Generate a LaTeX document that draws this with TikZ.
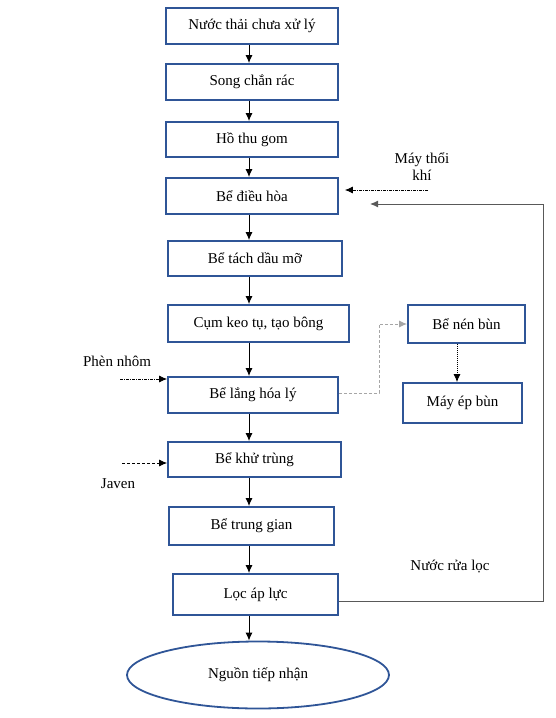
\documentclass[tikz,border=0pt]{standalone}
\usepackage{fontspec}
\setmainfont{Liberation Serif}
\usetikzlibrary{arrows.meta,shapes.geometric,calc}
\definecolor{boxblue}{HTML}{2F5597}
\definecolor{lgray}{HTML}{A6A6A6}
\definecolor{dgray}{HTML}{595959}
\begin{document}
\begin{tikzpicture}[x=1pt,y=-1pt,
  every node/.style={font=\fontsize{15}{17}\selectfont},
  proc/.style={draw=boxblue,line width=1.8pt,inner sep=0pt},
  arr/.style={-{Latex[length=8pt,width=7pt]},line width=1pt},
  lbl/.style={inner sep=0pt,align=center}]
\useasboundingbox (0,0) rectangle (556,718);
\newcommand{\bx}[6]{\node[proc,minimum width={#4-#2},minimum height={#5-#3}] (#1) at ({(#2+#4)/2},{(#3+#5)/2}) {#6};}
\bx{b1}{166}{8}{338}{44}{Nước thải chưa xử lý}
\bx{b2}{166}{64}{338}{100}{Song chắn rác}
\bx{b3}{166}{122}{338}{157}{Hồ thu gom}
\bx{b4}{166}{178}{338}{214}{Bể điều hòa}
\bx{b5}{168}{241}{342}{276}{Bể tách dầu mỡ}
\bx{b6}{168}{305}{349}{342}{Cụm keo tụ, tạo bông}
\bx{b7}{168}{377}{338}{413}{Bể lắng hóa lý}
\bx{b8}{408}{305}{525}{343}{Bể nén bùn}
\bx{b9}{403}{383}{522}{423}{Máy ép bùn}
\bx{b10}{168}{442}{341}{477}{Bể khử trùng}
\bx{b11}{169}{507}{334}{545}{Bể trung gian}
\bx{b12}{173}{574}{338}{615}{Lọc áp lực}
\node[proc,ellipse,minimum width=262,minimum height=67] (b13) at (258,675) {Nguồn tiếp nhận};
\coordinate (ax) at (249,0);
\foreach \a/\b in {b1/b2,b2/b3,b3/b4,b4/b5,b5/b6,b6/b7,b7/b10,b10/b11,b11/b12,b12/b13}
  \draw[arr] (\a.south -| ax) -- (\b.north -| ax);
% labels
\node[lbl] (mt) at (422,167) {Máy thổi\\khí};
\coordinate (mts) at (428,190);
\draw[arr,densely dash dot,line width=0.7pt] (mts) -- ($(b4.east |- mts)+(6,0)$);
\node[lbl] (pn) at (117,361) {Phèn nhôm};
\coordinate (pns) at (120,379);
\draw[arr,densely dash dot,line width=0.7pt] (pns) -- (b7.west |- pns);
\node[lbl] (jv) at (118,484) {Javen};
\coordinate (jvs) at (122,463);
\draw[arr,densely dashed,line width=0.7pt] (jvs) -- (b10.west |- jvs);
\node[lbl] (nr) at (450,567) {Nước rửa lọc};
% feedback
\coordinate (fbx) at (543,0);
\draw[arr,draw=dgray,line width=1pt] (b12.east |- 0,601) -- (fbx |- 0,601) -- (fbx |- 0,204) -- (370,204);
% sludge
\coordinate (sx) at (379,0);
\draw[arr,draw=lgray,densely dashed,line width=1pt] (b7.east |- 0,393) -- (sx |- 0,393) -- (sx |- b8.west) -- (b8.west);
\draw[arr,densely dotted,line width=0.8pt] (b8.south -| 457,0) -- (b9.north -| 457,0);
\end{tikzpicture}
\end{document}
